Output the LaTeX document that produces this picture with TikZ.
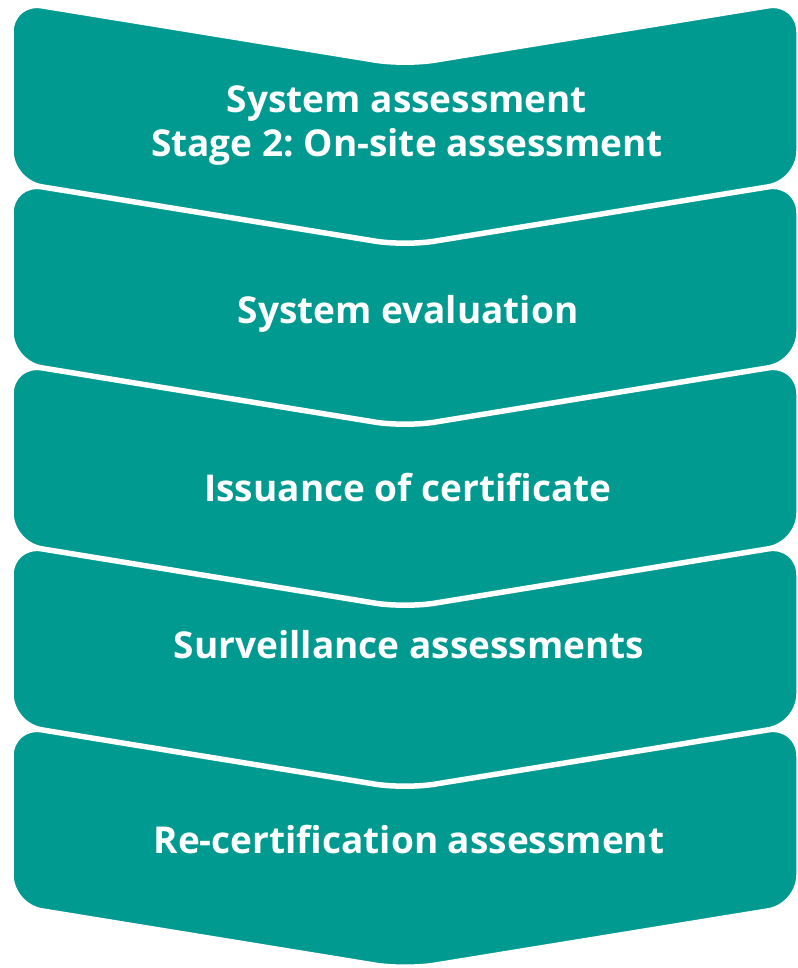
\documentclass[tikz,border=0pt]{standalone}
\usepackage{fontspec}
\setmainfont{Open Sans}
\frenchspacing
\definecolor{teal1}{RGB}{0,154,144}
\begin{document}
\begin{tikzpicture}[x=1pt,y=-1pt,
  chev/.style={fill=teal1,draw=white,line width=3.5pt,rounded corners=30pt},
  lbl/.style={text=white,font=\bfseries\fontsize{37}{46}\selectfont,inner sep=0pt,anchor=base}]
\useasboundingbox (0,0) rectangle (797,968);
\foreach \t in {2,183,364,545,726}{
  \draw[chev] (12,\t) -- (405,\t+64) -- (798,\t) -- (798,\t+179) -- (405,\t+243) -- (12,\t+179) -- cycle;
}
\node[lbl] (s1a) at (407,113) {System assessment};
\node[lbl] (s1b) at (407,157) {Stage 2: On-site assessment};
\node[lbl] (s2) at (408,323) {System evaluation};
\node[lbl] (s3) at (408,501) {Issuance of certificate};
\node[lbl] (s4) at (409,658) {Surveillance assessments};
\node[lbl] (s5) at (409,853) {Re-certification assessment};
\end{tikzpicture}
\end{document}
